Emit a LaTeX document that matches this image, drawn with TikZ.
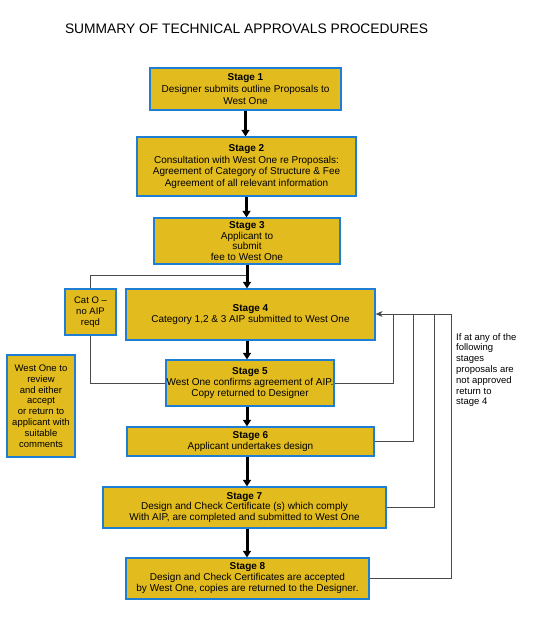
\documentclass[tikz,border=0pt]{standalone}
\usepackage{fontspec}
\setmainfont{Liberation Sans}
\usepackage{tikz}
\usetikzlibrary{arrows.meta,positioning}
\definecolor{stageyellow}{HTML}{E2BC1E}
\definecolor{stageblue}{HTML}{1E7DD4}
\definecolor{linkgrey}{HTML}{4A4A4A}

\begin{document}
\begin{tikzpicture}[x=1pt,y=-1pt,
  stagebox/.style={draw=stageblue,fill=stageyellow,line width=1.3pt,align=center,inner sep=0pt,font=\fontsize{10}{11.6}\selectfont},
  sidebox/.style={stagebox,font=\fontsize{9.5}{10.8}\selectfont},
  flow/.style={line width=3pt,-{Triangle[length=6.5pt,width=8pt]}},
  link/.style={linkgrey,line width=0.9pt},
  back/.style={link,-{Stealth[length=7pt,width=6pt,fill=black]}}]
  \useasboundingbox (0,0) rectangle (547,627);
  \node[font=\fontsize{13.8}{16}\selectfont] (title) at (246.5,29) {SUMMARY OF TECHNICAL APPROVALS PROCEDURES};
  \node[stagebox,minimum width=191pt,minimum height=42pt] (s1) at (245.5,89)
    {\textbf{Stage 1}\\Designer submits outline Proposals to\\West One};
  \node[stagebox,minimum width=219pt,minimum height=59pt] (s2) at (246.5,166.5)
    {\textbf{Stage 2}\\Consultation with West One re Proposals:\\Agreement of Category of Structure \& Fee\\Agreement of all relevant information};
  \node[stagebox,minimum width=186pt,minimum height=46pt,font=\fontsize{10}{10.8}\selectfont] (s3) at (247,241)
    {\textbf{Stage 3}\\Applicant to\\submit\\fee to West One};
  \node[stagebox,minimum width=249pt,minimum height=51pt] (s4) at (250.5,314.5)
    {\textbf{Stage 4}\\Category 1,2 \& 3 AIP submitted to  West One};
  \node[sidebox,minimum width=51pt,minimum height=46pt] (cat0) at (90.5,312)
    {Cat O --\\no AIP\\reqd};
  \node[stagebox,minimum width=168pt,minimum height=46pt,font=\fontsize{10}{11}\selectfont] (s5) at (250,383)
    {\textbf{Stage 5}\\West One confirms agreement of AIP.\\Copy returned to Designer};
  \node[sidebox,minimum width=68pt,minimum height=102pt] (review) at (41,406)
    {West One to\\review\\and either\\accept\\or return to\\applicant with\\suitable\\comments};
  \node[stagebox,minimum width=247pt,minimum height=29pt,font=\fontsize{10}{10.8}\selectfont] (s6) at (250.5,441.5)
    {\textbf{Stage 6}\\Applicant undertakes design};
  \node[stagebox,minimum width=283pt,minimum height=41pt,font=\fontsize{10}{10.8}\selectfont] (s7) at (244.5,507.5)
    {\textbf{Stage 7}\\Design and Check Certificate (s) which comply\\With AIP, are completed and submitted to West One};
  \node[stagebox,minimum width=243pt,minimum height=41pt,font=\fontsize{10}{11}\selectfont] (s8) at (247.5,578.5)
    {\textbf{Stage 8}\\Design and Check Certificates are accepted\\by West One,  copies are returned to the Designer.};
  \node[anchor=north west,align=left,inner sep=0pt,font=\fontsize{9.5}{10.8}\selectfont] (note) at (456,333)
    {If at any of the\\following\\stages\\proposals are\\not approved\\return to\\stage 4};
  \coordinate (split) at (247,275);
  \coordinate (r5) at (393,314);
  \coordinate (r6) at (413,314);
  \coordinate (r7) at (434,314);
  \coordinate (r8) at (451,314);
  \draw[link] (split) -| (cat0.north);
  \draw[link] (cat0.south) |- (s5.west);
  \draw[link] (s5.east) -| (r5);
  \draw[link] (s6.east) -| (r6);
  \draw[link] (s7.east) -| (r7);
  \draw[link] (s8.east) -| (r8);
  \draw[back] (r8) -- (r8 -| s4.east);
  \draw[flow] (s1.south) -- (s1.south |- s2.north);
  \draw[flow] (s2.south) -- (s2.south |- s3.north);
  \draw[flow] (s3.south) -- (s3.south |- s4.north);
  \draw[flow] (s3.south |- s4.south) -- (s3.south |- s5.north);
  \draw[flow] (s3.south |- s5.south) -- (s3.south |- s6.north);
  \draw[flow] (s3.south |- s6.south) -- (s3.south |- s7.north);
  \draw[flow] (s3.south |- s7.south) -- (s3.south |- s8.north);
\end{tikzpicture}
\end{document}
